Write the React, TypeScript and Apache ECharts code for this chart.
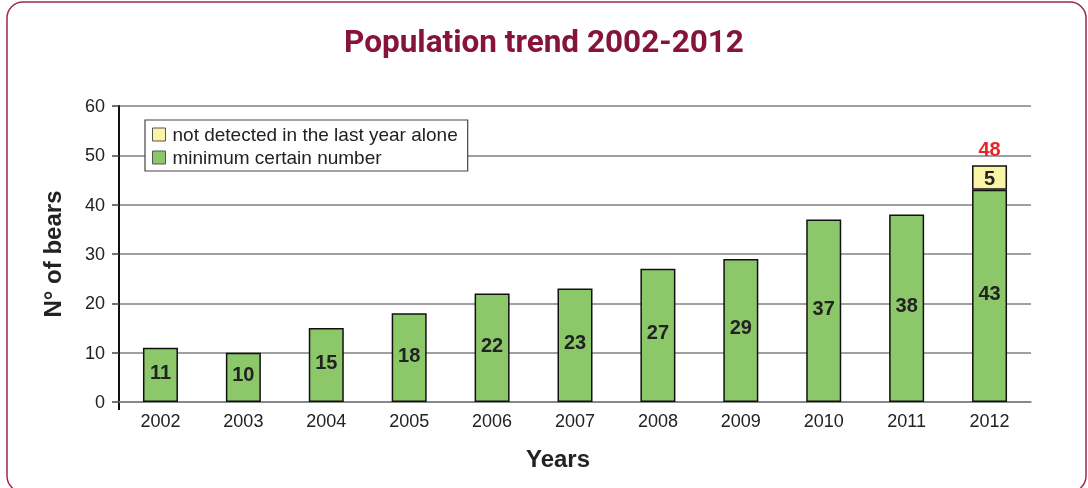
import React, { useEffect, useRef } from "react";
import * as echarts from "echarts";

const years = ["2002", "2003", "2004", "2005", "2006", "2007", "2008", "2009", "2010", "2011", "2012"];
const minimumCertain = [11, 10, 15, 18, 22, 23, 27, 29, 37, 38, 43];
const notDetected = [null, null, null, null, null, null, null, null, null, null, 5];
const totals = [null, null, null, null, null, null, null, null, null, null, 48];

const NAME_YELLOW = "not detected in the last year alone";
const NAME_GREEN = "minimum certain number";

export default function App() {
  const ref = useRef<HTMLDivElement>(null);
  useEffect(() => {
    if (!ref.current) return;
    const chart = echarts.init(ref.current, null, { renderer: "svg" });
    const font = "'Liberation Sans', Arial, sans-serif";
    chart.setOption({
      animation: false,
      textStyle: { fontFamily: font },
      title: {
        text: "Population trend 2002-2012",
        left: "center",
        top: 20,
        textStyle: { color: "#861438", fontSize: 31.5, fontWeight: "bold", fontFamily: "Roboto, sans-serif" },
      },
      graphic: [
        {
          type: "rect",
          shape: { x: 7, y: 2, width: 1079, height: 490, r: 16 },
          style: { fill: "none", stroke: "#9a2a4c", lineWidth: 1.5 },
          silent: true,
        },
        {
          type: "line",
          shape: { x1: 119, y1: 401, x2: 119, y2: 410 },
          style: { stroke: "#111", lineWidth: 2 },
          silent: true,
        },
      ],
      legend: {
        data: [NAME_YELLOW, NAME_GREEN],
        orient: "vertical",
        left: 145,
        top: 120,
        icon: "rect",
        itemWidth: 13,
        itemHeight: 13,
        itemGap: 4,
        padding: [5, 10, 4, 7],
        borderColor: "#444",
        borderWidth: 1.2,
        backgroundColor: "#fff",
        textStyle: { fontSize: 19, color: "#222", fontFamily: font, padding: [0, 0, 0, 2] },
        itemStyle: { borderColor: "#555", borderWidth: 1 },
      },
      grid: { left: 119, right: 57, top: 106, bottom: 86 },
      xAxis: {
        type: "category",
        data: years,
        name: "Years",
        nameLocation: "middle",
        nameGap: 44,
        nameTextStyle: { fontSize: 24, fontWeight: "bold", color: "#222", fontFamily: font, padding: [0, 34, 0, 0] },
        axisLine: { lineStyle: { color: "#808080", width: 1.5 } },
        axisTick: { show: false },
        axisLabel: { fontSize: 18, color: "#222", margin: 10, fontFamily: font },
      },
      yAxis: {
        type: "value",
        min: 0,
        max: 60,
        interval: 10,
        name: "N° of bears",
        nameLocation: "middle",
        nameGap: 55,
        nameTextStyle: { fontSize: 24, fontWeight: "bold", color: "#222", fontFamily: font },
        axisLine: { show: true, lineStyle: { color: "#111", width: 2 } },
        axisTick: { show: true, length: 7, lineStyle: { color: "#444", width: 1.5 } },
        axisLabel: { fontSize: 18, color: "#222", margin: 14, fontFamily: font },
        splitLine: { lineStyle: { color: "#808080", width: 1.5 } },
      },
      series: [
        {
          name: NAME_GREEN,
          type: "bar",
          stack: "bears",
          barWidth: 35,
          data: minimumCertain,
          itemStyle: { color: "#8cc86a", borderColor: "#111", borderWidth: 1.5 },
          label: { show: true, position: "inside", offset: [0, -3], fontSize: 20, fontWeight: "bold", color: "#222", fontFamily: font },
          z: 3,
        },
        {
          name: NAME_YELLOW,
          type: "bar",
          stack: "bears",
          barWidth: 35,
          data: notDetected,
          itemStyle: { color: "#faf4a6", borderColor: "#111", borderWidth: 1.5 },
          label: { show: true, position: "inside", fontSize: 20, fontWeight: "bold", color: "#222", fontFamily: font },
          z: 3,
        },
        {
          name: "total",
          type: "scatter",
          data: totals,
          symbolSize: 2,
          itemStyle: { color: "rgba(0,0,0,0)", opacity: 1 },
          label: { show: true, position: "top", distance: 5, fontSize: 20, fontWeight: "bold", color: "#e8242c", fontFamily: font },
          z: 4,
        },
      ],
    });
    return () => chart.dispose();
  }, []);
  return <div ref={ref} style={{ position: "fixed", left: 0, top: 0, width: 1088, height: 488 }} />;
}
